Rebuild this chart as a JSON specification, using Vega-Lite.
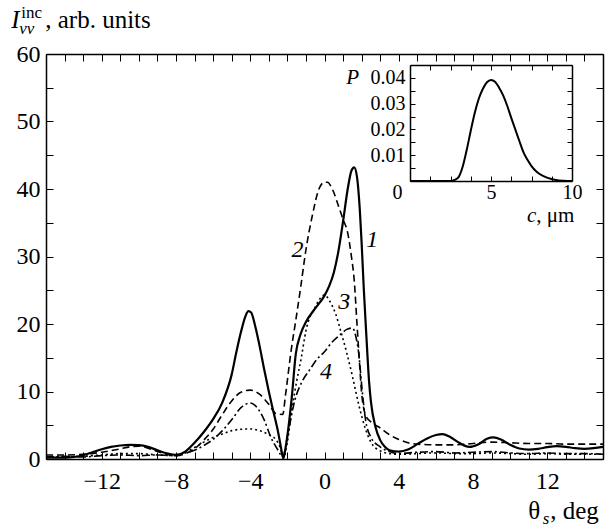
{
  "$schema": "https://vega.github.io/schema/vega-lite/v6.json",
  "width": 557,
  "height": 405,
  "autosize": {"type": "none"},
  "padding": {"left": 46, "top": 54, "right": 8, "bottom": 68},
  "background": "white",
  "config": {
    "view": {"stroke": null},
    "font": "Liberation Serif, Times New Roman, serif",
    "axis": {"domainColor": "#000", "domainWidth": 1.5, "tickColor": "#000", "tickWidth": 1, "labelColor": "#000", "labelFont": "Liberation Serif, Times New Roman, serif", "grid": false, "title": null, "zindex": 1, "labelFlush": false, "labelOverlap": false}
  },
  "datasets": {
    "curves": [
      {"curve":"1","theta":-15,"I":0.2},{"curve":"1","theta":-14,"I":0.2},{"curve":"1","theta":-13.5,"I":0.3},{"curve":"1","theta":-13,"I":0.55},{"curve":"1","theta":-12.5,"I":1.0},{"curve":"1","theta":-12,"I":1.45},{"curve":"1","theta":-11.5,"I":1.8},{"curve":"1","theta":-11,"I":2.0},{"curve":"1","theta":-10.5,"I":2.1},{"curve":"1","theta":-10,"I":2.05},{"curve":"1","theta":-9.5,"I":1.8},{"curve":"1","theta":-9,"I":1.3},{"curve":"1","theta":-8.5,"I":0.85},{"curve":"1","theta":-8,"I":0.6},{"curve":"1","theta":-7.5,"I":1.1},{"curve":"1","theta":-7,"I":2.4},{"curve":"1","theta":-6.5,"I":4.0},{"curve":"1","theta":-6,"I":5.9},{"curve":"1","theta":-5.5,"I":8.4},{"curve":"1","theta":-5,"I":12.5},{"curve":"1","theta":-4.75,"I":15.8},{"curve":"1","theta":-4.5,"I":18.8},{"curve":"1","theta":-4.25,"I":21.2},{"curve":"1","theta":-4.1,"I":21.9},{"curve":"1","theta":-3.95,"I":21.7},{"curve":"1","theta":-3.75,"I":19.9},{"curve":"1","theta":-3.5,"I":16.8},{"curve":"1","theta":-3.25,"I":13.3},{"curve":"1","theta":-3,"I":10},{"curve":"1","theta":-2.75,"I":7},{"curve":"1","theta":-2.5,"I":4},{"curve":"1","theta":-2.35,"I":1.8},{"curve":"1","theta":-2.22,"I":0.1},{"curve":"1","theta":-2.1,"I":1.6},{"curve":"1","theta":-1.95,"I":4.5},{"curve":"1","theta":-1.75,"I":9.5},{"curve":"1","theta":-1.55,"I":15.5},{"curve":"1","theta":-1.3,"I":18.4},{"curve":"1","theta":-1,"I":20.3},{"curve":"1","theta":-0.5,"I":22.3},{"curve":"1","theta":0,"I":24.2},{"curve":"1","theta":0.25,"I":25.6},{"curve":"1","theta":0.5,"I":27.6},{"curve":"1","theta":0.75,"I":30.8},{"curve":"1","theta":1,"I":35.2},{"curve":"1","theta":1.25,"I":40},{"curve":"1","theta":1.45,"I":42.7},{"curve":"1","theta":1.6,"I":43.2},{"curve":"1","theta":1.75,"I":41.8},{"curve":"1","theta":1.9,"I":37},{"curve":"1","theta":2,"I":32},{"curve":"1","theta":2.12,"I":25},{"curve":"1","theta":2.25,"I":18.5},{"curve":"1","theta":2.4,"I":11.5},{"curve":"1","theta":2.5,"I":8.5},{"curve":"1","theta":2.75,"I":4.7},{"curve":"1","theta":3,"I":2.8},{"curve":"1","theta":3.25,"I":1.8},{"curve":"1","theta":3.5,"I":1.3},{"curve":"1","theta":4,"I":1.1},{"curve":"1","theta":4.5,"I":1.4},{"curve":"1","theta":5,"I":2.2},{"curve":"1","theta":5.5,"I":3.0},{"curve":"1","theta":6,"I":3.55},{"curve":"1","theta":6.35,"I":3.7},{"curve":"1","theta":6.75,"I":3.3},{"curve":"1","theta":7.25,"I":2.4},{"curve":"1","theta":7.8,"I":1.8},{"curve":"1","theta":8.3,"I":2.2},{"curve":"1","theta":8.75,"I":3.0},{"curve":"1","theta":9.1,"I":3.2},{"curve":"1","theta":9.5,"I":2.9},{"curve":"1","theta":10,"I":2.1},{"curve":"1","theta":10.5,"I":1.55},{"curve":"1","theta":11,"I":1.4},{"curve":"1","theta":11.5,"I":1.5},{"curve":"1","theta":12,"I":1.75},{"curve":"1","theta":12.5,"I":1.9},{"curve":"1","theta":13,"I":1.8},{"curve":"1","theta":13.5,"I":1.6},{"curve":"1","theta":14,"I":1.5},{"curve":"1","theta":14.5,"I":1.6},{"curve":"1","theta":15,"I":1.8},
      {"curve":"2","theta":-15,"I":0.6},{"curve":"2","theta":-14,"I":0.6},{"curve":"2","theta":-13,"I":0.7},{"curve":"2","theta":-12,"I":1.0},{"curve":"2","theta":-11,"I":1.5},{"curve":"2","theta":-10.5,"I":1.8},{"curve":"2","theta":-10,"I":1.9},{"curve":"2","theta":-9.5,"I":1.6},{"curve":"2","theta":-9,"I":1.1},{"curve":"2","theta":-8.5,"I":0.7},{"curve":"2","theta":-8,"I":0.5},{"curve":"2","theta":-7.5,"I":0.8},{"curve":"2","theta":-7,"I":1.5},{"curve":"2","theta":-6.5,"I":2.8},{"curve":"2","theta":-6,"I":4.4},{"curve":"2","theta":-5.5,"I":6.6},{"curve":"2","theta":-5,"I":8.6},{"curve":"2","theta":-4.5,"I":9.9},{"curve":"2","theta":-4,"I":10.2},{"curve":"2","theta":-3.5,"I":9.6},{"curve":"2","theta":-3,"I":8.1},{"curve":"2","theta":-2.6,"I":6.7},{"curve":"2","theta":-2.25,"I":6.6},{"curve":"2","theta":-2.1,"I":9.5},{"curve":"2","theta":-1.8,"I":16},{"curve":"2","theta":-1.55,"I":20.5},{"curve":"2","theta":-1.28,"I":25.5},{"curve":"2","theta":-1,"I":31},{"curve":"2","theta":-0.66,"I":36},{"curve":"2","theta":-0.3,"I":40},{"curve":"2","theta":0,"I":41},{"curve":"2","theta":0.15,"I":41},{"curve":"2","theta":0.42,"I":40},{"curve":"2","theta":0.75,"I":37.5},{"curve":"2","theta":1,"I":35.5},{"curve":"2","theta":1.25,"I":33.5},{"curve":"2","theta":1.45,"I":30},{"curve":"2","theta":1.6,"I":26.5},{"curve":"2","theta":1.75,"I":20},{"curve":"2","theta":1.85,"I":15.7},{"curve":"2","theta":2,"I":9.8},{"curve":"2","theta":2.2,"I":6.6},{"curve":"2","theta":2.5,"I":5.5},{"curve":"2","theta":3,"I":4.6},{"curve":"2","theta":3.5,"I":3.6},{"curve":"2","theta":4,"I":2.9},{"curve":"2","theta":4.5,"I":2.4},{"curve":"2","theta":5,"I":2.2},{"curve":"2","theta":6,"I":2.1},{"curve":"2","theta":7,"I":2.1},{"curve":"2","theta":8,"I":2.3},{"curve":"2","theta":9,"I":2.5},{"curve":"2","theta":10,"I":2.4},{"curve":"2","theta":11,"I":2.3},{"curve":"2","theta":12,"I":2.3},{"curve":"2","theta":13,"I":2.2},{"curve":"2","theta":14,"I":2.2},{"curve":"2","theta":15,"I":2.2},
      {"curve":"3","theta":-15,"I":0.3},{"curve":"3","theta":-14,"I":0.3},{"curve":"3","theta":-13,"I":0.4},{"curve":"3","theta":-12,"I":0.6},{"curve":"3","theta":-11,"I":0.8},{"curve":"3","theta":-10,"I":0.8},{"curve":"3","theta":-9,"I":0.6},{"curve":"3","theta":-8,"I":0.5},{"curve":"3","theta":-7.5,"I":1.0},{"curve":"3","theta":-7,"I":1.7},{"curve":"3","theta":-6.5,"I":2.5},{"curve":"3","theta":-6,"I":3.2},{"curve":"3","theta":-5.5,"I":3.7},{"curve":"3","theta":-5,"I":4.2},{"curve":"3","theta":-4.5,"I":4.4},{"curve":"3","theta":-4,"I":4.45},{"curve":"3","theta":-3.5,"I":4.2},{"curve":"3","theta":-3,"I":3.6},{"curve":"3","theta":-2.6,"I":2.8},{"curve":"3","theta":-2.4,"I":1.8},{"curve":"3","theta":-2.2,"I":0.3},{"curve":"3","theta":-2,"I":2.5},{"curve":"3","theta":-1.75,"I":7.5},{"curve":"3","theta":-1.5,"I":11.5},{"curve":"3","theta":-1.25,"I":15},{"curve":"3","theta":-1,"I":19},{"curve":"3","theta":-0.5,"I":22.5},{"curve":"3","theta":0,"I":24.3},{"curve":"3","theta":0.3,"I":23.3},{"curve":"3","theta":0.6,"I":21.5},{"curve":"3","theta":0.9,"I":18.7},{"curve":"3","theta":1.2,"I":15.7},{"curve":"3","theta":1.5,"I":12.3},{"curve":"3","theta":1.85,"I":8},{"curve":"3","theta":2.2,"I":4.5},{"curve":"3","theta":2.5,"I":2.5},{"curve":"3","theta":3,"I":1.2},{"curve":"3","theta":3.5,"I":0.8},{"curve":"3","theta":4,"I":0.7},{"curve":"3","theta":5,"I":0.8},{"curve":"3","theta":6,"I":0.9},{"curve":"3","theta":7,"I":0.8},{"curve":"3","theta":8,"I":0.8},{"curve":"3","theta":9,"I":0.9},{"curve":"3","theta":10,"I":0.8},{"curve":"3","theta":11,"I":0.7},{"curve":"3","theta":12,"I":0.8},{"curve":"3","theta":13,"I":0.7},{"curve":"3","theta":14,"I":0.7},{"curve":"3","theta":15,"I":0.7},
      {"curve":"4","theta":-15,"I":0.3},{"curve":"4","theta":-14,"I":0.4},{"curve":"4","theta":-13,"I":0.3},{"curve":"4","theta":-12,"I":0.5},{"curve":"4","theta":-11,"I":0.6},{"curve":"4","theta":-10,"I":0.5},{"curve":"4","theta":-9,"I":0.6},{"curve":"4","theta":-8,"I":0.5},{"curve":"4","theta":-7.5,"I":0.9},{"curve":"4","theta":-7,"I":1.3},{"curve":"4","theta":-6.5,"I":2.0},{"curve":"4","theta":-6,"I":2.9},{"curve":"4","theta":-5.5,"I":4.2},{"curve":"4","theta":-5,"I":5.8},{"curve":"4","theta":-4.5,"I":7.6},{"curve":"4","theta":-4,"I":8.3},{"curve":"4","theta":-3.6,"I":7.5},{"curve":"4","theta":-3.25,"I":5.8},{"curve":"4","theta":-2.9,"I":3.3},{"curve":"4","theta":-2.5,"I":1.3},{"curve":"4","theta":-2.25,"I":0.3},{"curve":"4","theta":-2,"I":3.3},{"curve":"4","theta":-1.6,"I":8.7},{"curve":"4","theta":-1.2,"I":11.5},{"curve":"4","theta":-0.8,"I":13.2},{"curve":"4","theta":-0.4,"I":14.8},{"curve":"4","theta":0,"I":15.9},{"curve":"4","theta":0.4,"I":17.3},{"curve":"4","theta":0.8,"I":18.3},{"curve":"4","theta":1.2,"I":19.2},{"curve":"4","theta":1.5,"I":19.4},{"curve":"4","theta":1.7,"I":18},{"curve":"4","theta":1.85,"I":15.5},{"curve":"4","theta":2,"I":11},{"curve":"4","theta":2.2,"I":6},{"curve":"4","theta":2.5,"I":3.2},{"curve":"4","theta":3,"I":1.8},{"curve":"4","theta":3.5,"I":1.1},{"curve":"4","theta":4,"I":0.8},{"curve":"4","theta":5,"I":1.0},{"curve":"4","theta":6,"I":1.1},{"curve":"4","theta":7,"I":0.9},{"curve":"4","theta":8,"I":1.0},{"curve":"4","theta":9,"I":1.1},{"curve":"4","theta":10,"I":0.9},{"curve":"4","theta":11,"I":0.8},{"curve":"4","theta":12,"I":0.9},{"curve":"4","theta":13,"I":0.8},{"curve":"4","theta":14,"I":0.8},{"curve":"4","theta":15,"I":0.7}
    ],
    "inset": [
      {"c":0,"P":0},{"c":1,"P":0},{"c":2,"P":0},{"c":2.5,"P":0},{"c":2.75,"P":0.0004},{"c":3,"P":0.0015},{"c":3.25,"P":0.0055},{"c":3.5,"P":0.012},{"c":3.75,"P":0.0195},{"c":4,"P":0.0265},{"c":4.25,"P":0.032},{"c":4.5,"P":0.0358},{"c":4.75,"P":0.0383},{"c":5,"P":0.0392},{"c":5.25,"P":0.0385},{"c":5.5,"P":0.0362},{"c":5.75,"P":0.0332},{"c":6,"P":0.0292},{"c":6.25,"P":0.0245},{"c":6.5,"P":0.02},{"c":6.75,"P":0.0155},{"c":7,"P":0.0112},{"c":7.25,"P":0.0082},{"c":7.5,"P":0.0058},{"c":7.8,"P":0.0037},{"c":8,"P":0.0027},{"c":8.5,"P":0.0012},{"c":9,"P":0.0004},{"c":9.5,"P":0.0001},{"c":10,"P":0}
    ]
  },
  "layer": [
    {
      "data": {"name": "curves"},
      "encoding": {
        "x": {"field": "theta", "type": "quantitative", "scale": {"domain": [-15, 15], "nice": false, "zero": false},
          "axis": {"orient": "bottom", "values": [-15,-14,-13,-12,-11,-10,-9,-8,-7,-6,-5,-4,-3,-2,-1,0,1,2,3,4,5,6,7,8,9,10,11,12,13,14,15], "tickSize": -7, "labelPadding": 17, "labelFontSize": 24, "labelExpr": "(datum.value % 4 == 0 && abs(datum.value) <= 12) ? format(datum.value, 'd') : ''"}},
        "y": {"field": "I", "type": "quantitative", "scale": {"domain": [0, 60], "nice": false, "zero": false},
          "axis": {"orient": "left", "values": [0,5,10,15,20,25,30,35,40,45,50,55,60], "tickSize": -7, "labelPadding": 13, "labelFontSize": 24, "labelExpr": "datum.value % 10 == 0 ? format(datum.value, 'd') : ''"}}
      },
      "layer": [
        {"transform": [{"filter": "datum.curve == '1'"}], "mark": {"type": "line", "color": "#000", "strokeWidth": 2.2, "interpolate": "monotone"}},
        {"transform": [{"filter": "datum.curve != '1'"}], "mark": {"type": "line", "color": "#000", "strokeWidth": 1.6, "interpolate": "monotone"},
          "encoding": {"strokeDash": {"field": "curve", "type": "nominal", "scale": {"domain": ["2", "3", "4"], "range": [[7, 4], [2, 3], [8, 3, 2, 3]]}, "legend": null}}},
        {"data": {"values": [{"label": "1", "theta": 2.57, "I": 32.4}, {"label": "2", "theta": -1.45, "I": 31.0}, {"label": "3", "theta": 1.06, "I": 23.3}, {"label": "4", "theta": 0.08, "I": 12.9}]},
          "mark": {"type": "text", "font": "Liberation Serif, Times New Roman, serif", "fontStyle": "italic", "fontSize": 24, "align": "center", "baseline": "middle", "color": "#000"},
          "encoding": {"text": {"field": "label"}}},
        {"data": {"values": [{"label": "I", "theta": -16.87, "I": 63.85}]},
          "mark": {"type": "text", "font": "Liberation Serif, Times New Roman, serif", "fontStyle": "italic", "fontSize": 25, "align": "left", "baseline": "alphabetic", "color": "#000"},
          "encoding": {"text": {"field": "label"}}},
        {"data": {"values": [{"label": "vv", "theta": -16.44, "I": 62.9}, {"label": "s", "theta": 11.75, "I": -9.63}]},
          "mark": {"type": "text", "font": "Liberation Serif, Times New Roman, serif", "fontStyle": "italic", "fontSize": 17, "align": "left", "baseline": "alphabetic", "color": "#000"},
          "encoding": {"text": {"field": "label"}}},
        {"data": {"values": [{"label": "inc", "theta": -16.33, "I": 65.4}]},
          "mark": {"type": "text", "font": "Liberation Serif, Times New Roman, serif", "fontSize": 17, "align": "left", "baseline": "alphabetic", "color": "#000"},
          "encoding": {"text": {"field": "label"}}},
        {"data": {"values": [{"label": ", arb. units", "theta": -15.04, "I": 63.85}, {"label": "θ", "theta": 10.97, "I": -8.89}, {"label": ", deg", "theta": 12.16, "I": -8.89}]},
          "mark": {"type": "text", "font": "Liberation Serif, Times New Roman, serif", "fontSize": 25, "align": "left", "baseline": "alphabetic", "color": "#000"},
          "encoding": {"text": {"field": "label"}}}
      ]
    },
    {
      "data": {"values": [{"theta": 0, "I": 0}]},
      "mark": {"type": "point", "opacity": 0},
      "encoding": {
        "x": {"field": "theta", "type": "quantitative", "scale": {"domain": [-15, 15], "nice": false, "zero": false},
          "axis": {"orient": "top", "values": [-15,-14,-13,-12,-11,-10,-9,-8,-7,-6,-5,-4,-3,-2,-1,0,1,2,3,4,5,6,7,8,9,10,11,12,13,14,15], "tickSize": -7, "labels": false}},
        "y": {"field": "I", "type": "quantitative", "scale": {"domain": [0, 60], "nice": false, "zero": false},
          "axis": {"orient": "right", "values": [0,5,10,15,20,25,30,35,40,45,50,55,60], "tickSize": -7, "labels": false}}
      }
    },
    {
      "data": {"name": "inset"},
      "encoding": {
        "x": {"field": "c", "type": "quantitative", "scale": {"domain": [0, 10], "range": [364, 526], "nice": false, "zero": false},
          "axis": {"orient": "bottom", "offset": -278, "values": [0, 1.25, 2.5, 3.75, 5, 6.25, 7.5, 8.75, 10], "tickSize": -5, "labelPadding": 6, "labelFontSize": 20, "labelOffset": {"condition": {"test": "datum.value == 0", "value": -13}, "value": 0}, "labelExpr": "datum.value % 5 == 0 ? format(datum.value, 'd') : ''"}},
        "y": {"field": "P", "type": "quantitative", "scale": {"domain": [0, 0.045], "range": [127, 11], "nice": false, "zero": false},
          "axis": {"orient": "left", "offset": -364, "values": [0.005, 0.01, 0.015, 0.02, 0.025, 0.03, 0.035, 0.04], "tickSize": -5, "labelPadding": 10, "labelFontSize": 20, "labelExpr": "round(datum.value * 1000) % 10 == 0 ? format(datum.value, '.2f') : ''"}}
      },
      "layer": [
        {"mark": {"type": "line", "color": "#000", "strokeWidth": 2, "interpolate": "monotone"}},
        {"data": {"values": [{"label": "P", "c": -3.15, "P": 0.0376}]},
          "mark": {"type": "text", "font": "Liberation Serif, Times New Roman, serif", "fontStyle": "italic", "fontSize": 21, "align": "right", "baseline": "alphabetic", "color": "#000"},
          "encoding": {"text": {"field": "label"}}},
        {"data": {"values": [{"label": "c", "c": 7.22, "P": -0.0159}]},
          "mark": {"type": "text", "font": "Liberation Serif, Times New Roman, serif", "fontStyle": "italic", "fontSize": 21, "align": "left", "baseline": "alphabetic", "color": "#000"},
          "encoding": {"text": {"field": "label"}}},
        {"data": {"values": [{"label": ", μm", "c": 7.8, "P": -0.0159}]},
          "mark": {"type": "text", "font": "Liberation Serif, Times New Roman, serif", "fontSize": 21, "align": "left", "baseline": "alphabetic", "color": "#000"},
          "encoding": {"text": {"field": "label"}}}
      ]
    },
    {
      "data": {"values": [{"c": 5, "P": 0.02}]},
      "mark": {"type": "point", "opacity": 0},
      "encoding": {
        "x": {"field": "c", "type": "quantitative", "scale": {"domain": [0, 10], "range": [364, 526], "nice": false, "zero": false},
          "axis": {"orient": "top", "offset": -11, "values": [0, 1.25, 2.5, 3.75, 5, 6.25, 7.5, 8.75, 10], "tickSize": -5, "labels": false}},
        "y": {"field": "P", "type": "quantitative", "scale": {"domain": [0, 0.045], "range": [127, 11], "nice": false, "zero": false},
          "axis": {"orient": "right", "offset": -31, "values": [0.005, 0.01, 0.015, 0.02, 0.025, 0.03, 0.035, 0.04], "tickSize": -5, "labels": false}}
      }
    }
  ],
  "resolve": {"scale": {"x": "independent", "y": "independent"}, "axis": {"x": "independent", "y": "independent"}}
}
